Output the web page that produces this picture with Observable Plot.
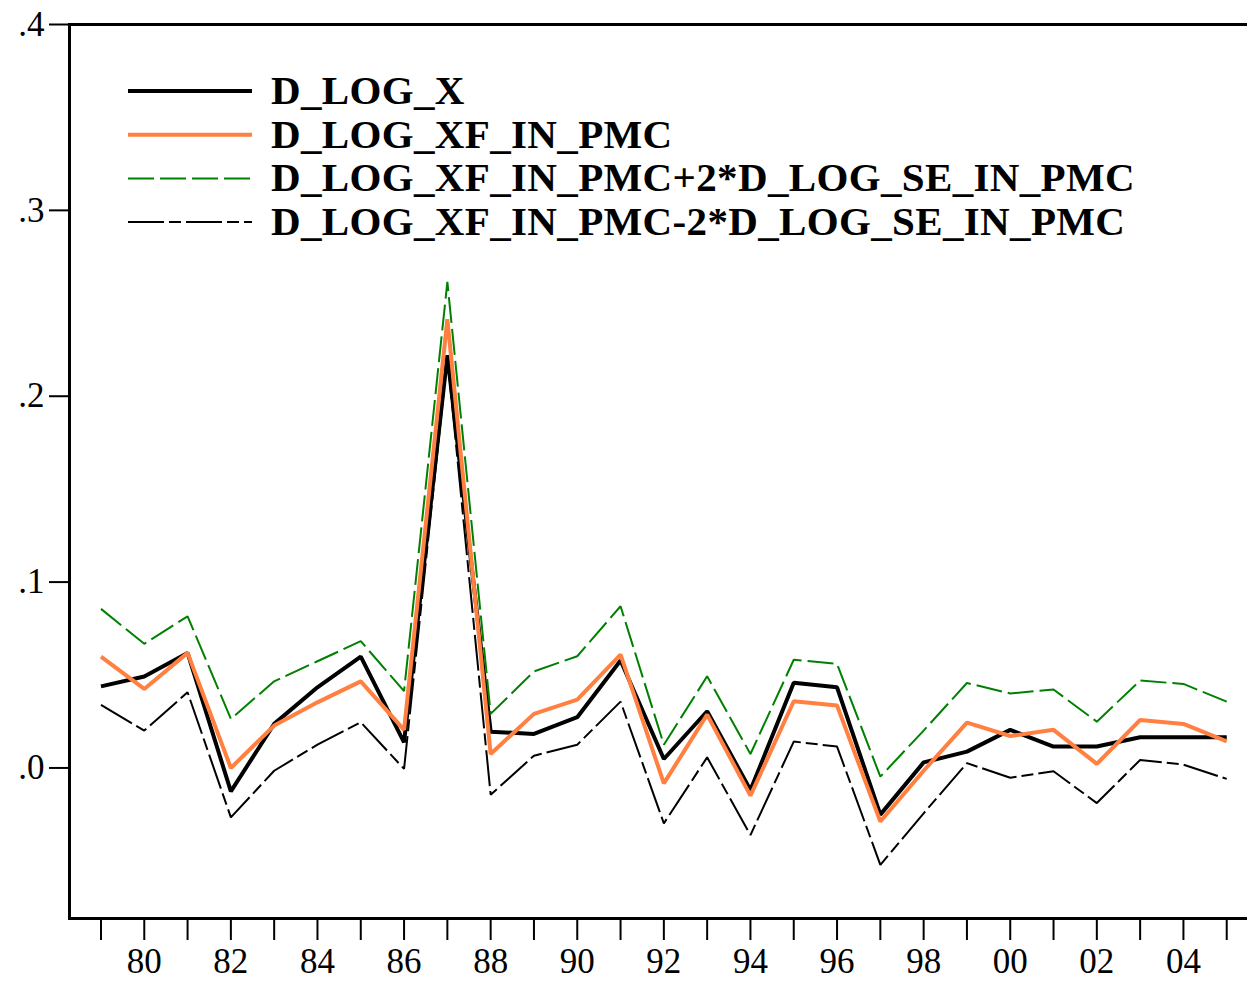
<!DOCTYPE html>
<html>
<head>
<meta charset="utf-8">
<script src="https://cdn.jsdelivr.net/npm/d3@7"></script>
<script src="https://cdn.jsdelivr.net/npm/@observablehq/plot@0.6"></script>
<style>
  html, body { margin: 0; padding: 0; background: #fff; overflow: hidden; }
  #wrap { position: relative; width: 1247px; height: 981px; overflow: hidden; background: #fff; }
  #wrap > svg { position: absolute; left: 0; top: 0; max-width: none !important; }
</style>
</head>
<body>
<div id="wrap"></div>
<script>
// ---- data ----
const years = [1979, 1980, 1981, 1982, 1983, 1984, 1985, 1986, 1987, 1988, 1989, 1990, 1991, 1992,
               1993, 1994, 1995, 1996, 1997, 1998, 1999, 2000, 2001, 2002, 2003, 2004, 2005];

const dLogX = [0.0439, 0.0492, 0.0619, -0.0126, 0.0237, 0.0434, 0.0599, 0.0138, 0.2220, 0.0195,
               0.0183, 0.0273, 0.0578, 0.0048, 0.0305, -0.0119, 0.0458, 0.0434, -0.0251, 0.0030,
               0.0088, 0.0205, 0.0115, 0.0115, 0.0165, 0.0165, 0.0165];

const dLogXF = [0.0599, 0.0425, 0.0619, 0.0000, 0.0228, 0.0353, 0.0466, 0.0205, 0.2414, 0.0075,
                0.0291, 0.0368, 0.0610, -0.0083, 0.0287, -0.0149, 0.0359, 0.0336, -0.0288, -0.0015,
                0.0244, 0.0172, 0.0205, 0.0022, 0.0258, 0.0237, 0.0143];

const dLogUpper = [0.0856, 0.0668, 0.0816, 0.0264, 0.0466, 0.0574, 0.0682, 0.0413, 0.2615, 0.0291,
                   0.0519, 0.0601, 0.0870, 0.0125, 0.0493, 0.0075, 0.0582, 0.0560, -0.0047, 0.0201,
                   0.0457, 0.0401, 0.0422, 0.0249, 0.0470, 0.0452, 0.0357];

const dLogLower = [0.0339, 0.0201, 0.0407, -0.0266, -0.0015, 0.0125, 0.0246, -0.0005, 0.2210, -0.0144,
                   0.0066, 0.0125, 0.0357, -0.0298, 0.0057, -0.0361, 0.0142, 0.0115, -0.0521, -0.0244,
                   0.0026, -0.0053, -0.0018, -0.0189, 0.0043, 0.0018, -0.0059];

const yTicks = [0, 0.1, 0.2, 0.3, 0.4];

const seriesNames = [
  "D_LOG_X",
  "D_LOG_XF_IN_PMC",
  "D_LOG_XF_IN_PMC+2*D_LOG_SE_IN_PMC",
  "D_LOG_XF_IN_PMC-2*D_LOG_SE_IN_PMC"
];

// ---- styles ----
const styles = [
  { stroke: "#000000", strokeWidth: 4, dash: null },
  { stroke: "#ff8040", strokeWidth: 4, dash: null },
  { stroke: "#008000", strokeWidth: 2, dash: "26,6" },
  { stroke: "#000000", strokeWidth: 2, dash: "36,5,12,5" }
];

const seriesValues = [dLogX, dLogXF, dLogUpper, dLogLower];
const tables = seriesValues.map(vals => years.map((yr, i) => ({ year: yr, value: vals[i] })));

const serif = "'Liberation Serif', 'Times New Roman', 'DejaVu Serif', serif";

const fmtY = d => d3.format(".1f")(d).replace(/^0/, "");
const fmtX = d => (d % 2 === 0 ? String(d).slice(2) : "");

const chart = Plot.plot({
  width: 1260,
  height: 981,
  marginLeft: 69,
  marginRight: 0,
  marginTop: 24,
  marginBottom: 63,
  style: { fontFamily: serif, fontSize: "35px", color: "#000", background: "#fff", overflow: "visible", maxWidth: "none" },
  x: { domain: [1978.273, 2005.78], axis: null, label: null },
  y: { domain: [-0.081, 0.4], axis: null, label: null },
  marks: [
    Plot.axisY({ ticks: yTicks, tickSize: 20, tickPadding: 5, tickFormat: fmtY, strokeWidth: 2, fontSize: 35, label: null }),
    Plot.axisX({ ticks: years, tickSize: 22, tickPadding: 8, tickFormat: fmtX, strokeWidth: 2, fontSize: 35, label: null }),
    ...tables.map((t, i) => Plot.line(t, {
      x: "year",
      y: "value",
      stroke: styles[i].stroke,
      strokeWidth: styles[i].strokeWidth,
      strokeDasharray: styles[i].dash,
      strokeLinejoin: "miter",
      strokeLinecap: "butt"
    })),
    Plot.frame({ stroke: "#000", strokeWidth: 3 })
  ]
});

const wrap = document.getElementById("wrap");
wrap.appendChild(chart);

// ---- legend overlay (inside the plot frame, as in the reference) ----
const leg = d3.select(wrap).append("svg")
  .attr("width", 1247)
  .attr("height", 260)
  .style("position", "absolute")
  .style("left", "0px")
  .style("top", "0px");

seriesNames.forEach((name, i) => {
  const cy = 91 + i * 43.7;
  const s = styles[i];
  leg.append("line")
    .attr("x1", 128).attr("x2", 252)
    .attr("y1", cy).attr("y2", cy)
    .attr("stroke", s.stroke)
    .attr("stroke-width", s.strokeWidth)
    .attr("stroke-dasharray", s.dash)
    .attr("stroke-linecap", "butt");
  leg.append("text")
    .attr("x", 271)
    .attr("y", cy + 13)
    .attr("font-family", serif)
    .attr("font-weight", "bold")
    .attr("font-size", 41)
    .attr("letter-spacing", "0.35px")
    .attr("fill", "#000")
    .text(name);
});
</script>
</body>
</html>
